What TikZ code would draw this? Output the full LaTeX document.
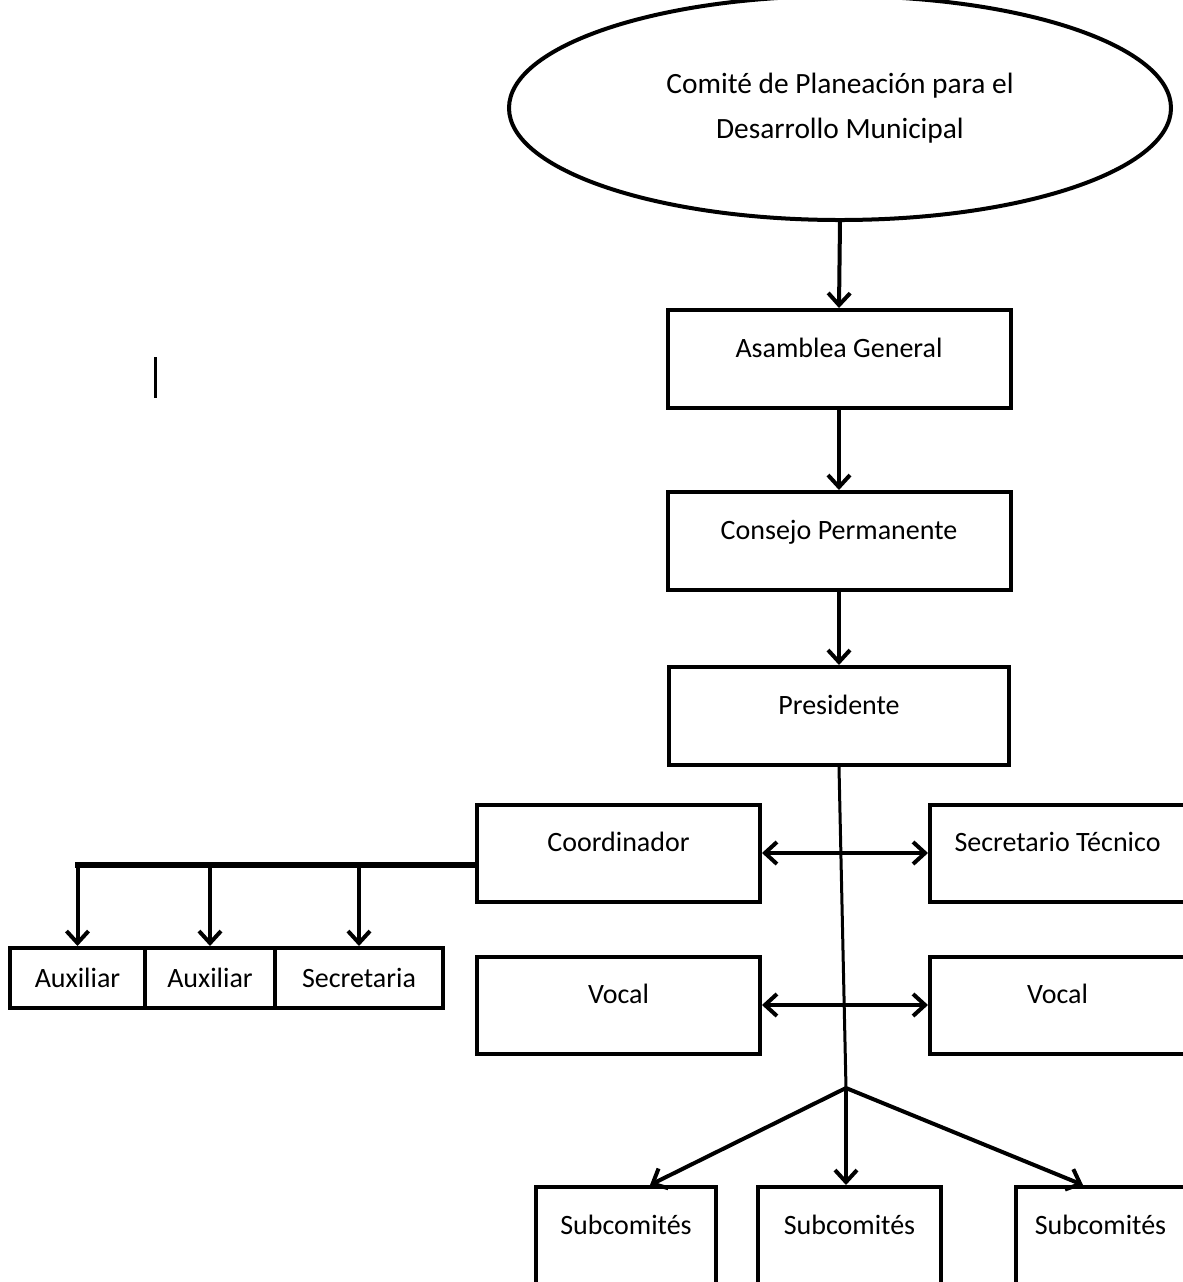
\documentclass[tikz,border=0pt]{standalone}
\usepackage{fontspec}
\setmainfont{Carlito}
\usetikzlibrary{arrows.meta,shapes.geometric}
\tikzset{
  box/.style={draw, line width=2pt, inner sep=0pt, text height=10.5pt, text depth=12pt, font=\fontsize{14}{17}\selectfont},
  smallbox/.style={draw, line width=2pt, inner sep=0pt, font=\fontsize{14}{17}\selectfont},
  arr/.style={line width=2pt, -{Straight Barb[length=6pt,width=11pt]}},
  biarr/.style={line width=2pt, {Straight Barb[length=6pt,width=11pt]}-{Straight Barb[length=6pt,width=11pt]}}
}
\begin{document}
\begin{tikzpicture}[x=0.5pt,y=-0.5pt]
\useasboundingbox (0,0) rectangle (1183,1282);
\clip (0,0) rectangle (1183,1282);
\node[draw, ellipse, line width=2pt, minimum width=331pt, minimum height=112pt, align=center, font=\fontsize{14.7}{22.5}\selectfont] (comite) at (840,108) {Comité de Planeación para el\\Desarrollo Municipal};
\node[box, minimum width=171.5pt, minimum height=49pt] (asamblea) at (839,359) {Asamblea General};
\node[box, minimum width=171.5pt, minimum height=49pt] (consejo) at (839,541) {Consejo Permanente};
\node[box, minimum width=170pt, minimum height=49pt] (presidente) at (839,716) {Presidente};
\node[box, minimum width=141.5pt, minimum height=48.5pt] (coordinador) at (618.5,853) {Coordinador};
\node[box, minimum width=127.5pt, minimum height=48.5pt] (sectec) at (1057.5,853) {Secretario Técnico};
\node[box, minimum width=141.5pt, minimum height=48.5pt] (vocal1) at (618.5,1005) {Vocal};
\node[box, minimum width=127.5pt, minimum height=48.5pt] (vocal2) at (1057.5,1005) {Vocal};
\node[smallbox, minimum width=67.5pt, minimum height=30pt] (aux1) at (77.5,978) {Auxiliar};
\node[smallbox, minimum width=65pt, minimum height=30pt] (aux2) at (210,978) {Auxiliar};
\node[smallbox, minimum width=84pt, minimum height=30pt] (secretaria) at (359,978) {Secretaria};
\node[box, minimum width=90pt, minimum height=49pt] (sub1) at (626,1236) {Subcomités};
\node[box, minimum width=91.5pt, minimum height=49pt] (sub2) at (849.5,1236) {Subcomités};
\node[box, minimum width=84.5pt, minimum height=49pt] (sub3) at (1100.5,1236) {Subcomités};
\draw[arr] (comite.south) -- (asamblea.north);
\draw[arr] (asamblea) -- (consejo);
\draw[arr] (consejo) -- (presidente);
\coordinate (split) at (846,1088);
\draw[line width=1.5pt] (presidente.south) -- (split);
\draw[arr] (split) -- (sub1.north -| 650,0);
\draw[arr] (split) -- (split |- sub2.north);
\draw[arr] (split) -- (sub3.north -| 1083,0);
\draw[biarr] (coordinador) -- (sectec);
\draw[biarr] (vocal1) -- (vocal2);
\coordinate (hub) at ([yshift=-6pt]coordinador.west);
\draw[line width=3pt, line cap=rect] (hub) -- (hub -| aux1.north);
\foreach \n in {aux1,aux2,secretaria} \draw[arr] (hub -| \n.north) -- (\n.north);
\draw[line width=1.5pt] (155,357) -- (155,398);
\end{tikzpicture}
\end{document}
